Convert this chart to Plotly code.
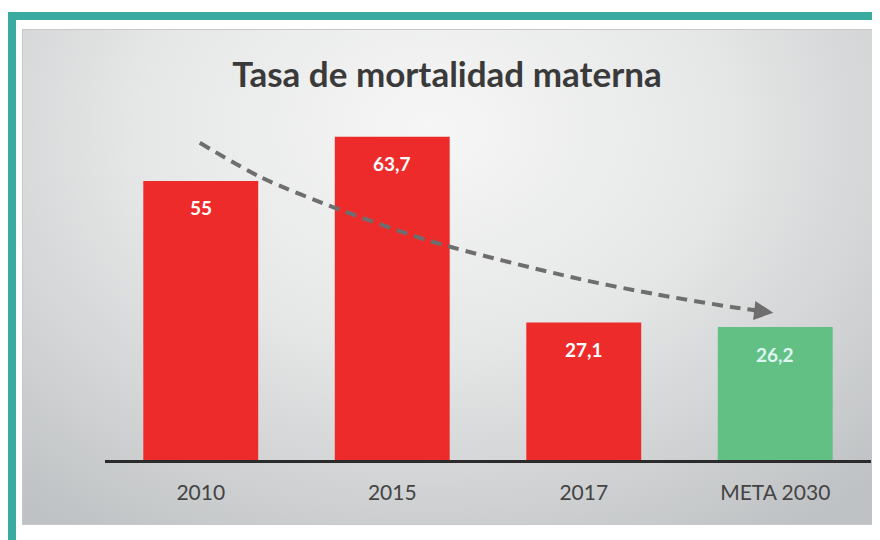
import base64

import plotly.graph_objects as go

# data
categories = ["2010", "2015", "2017", "META 2030"]
values = [55, 63.7, 27.1, 26.2]
labels = ["55", "63,7", "27,1", "26,2"]
bar_colors = ["#EE2B2B", "#EE2B2B", "#EE2B2B", "#63C084"]
label_colors = ["#FFFFFF", "#FFFFFF", "#FFFFFF", "#DDF6F2"]

# dashed trend arrow (category index, value units)
trend_x = [-0.005, 0.32, 0.715, 1.21, 1.95, 2.37, 2.78, 2.92]
trend_y = [62.5, 55.6, 49.5, 43.0, 35.9, 32.7, 30.1, 29.4]
arrow_tip = (2.99, 29.0)

TEAL = "#3AAC9F"
FONT = "Lato, Carlito, sans-serif"

# the page body adds an 8px margin, so work in screen px and shift
OFF = 8
W, H = 880 - OFF, 540 - OFF
# plot area on screen: x 105..871, y 54..460
L, R, T, B = 105 - OFF, 880 - 871, 54 - OFF, 540 - 460
pw, ph = W - L - R, H - T - B


def px_x(v):
    return (v - OFF - L) / pw


def px_y(v):
    return (H - B - (v - OFF)) / ph


svg = """<svg xmlns='http://www.w3.org/2000/svg' width='851' height='496' viewBox='0 0 851 496' preserveAspectRatio='none'>
<defs><radialGradient id='g' cx='0.48' cy='0.2' r='0.75' gradientTransform='translate(0.48 0.2) scale(1 1.3) translate(-0.48 -0.2)'>
<stop offset='0' stop-color='#f6f6f6'/><stop offset='0.45' stop-color='#e6e7e7'/>
<stop offset='1' stop-color='#bfc2c4'/></radialGradient></defs>
<rect x='0' y='0' width='851' height='496' fill='url(#g)' stroke='#c8c8c8' stroke-width='2'/></svg>"""
bg_src = "data:image/svg+xml;base64," + base64.b64encode(svg.encode()).decode()

fig = go.Figure()
fig.add_trace(
    go.Bar(
        x=categories,
        y=values,
        marker_color=bar_colors,
        marker_line_width=0,
        width=0.6,
        hoverinfo="skip",
    )
)
fig.add_trace(
    go.Scatter(
        x=trend_x,
        y=trend_y,
        mode="lines",
        line=dict(color="#6E6E6E", width=4, dash="11px,7px", shape="spline", smoothing=0.8),
        hoverinfo="skip",
        xaxis="x2",
    )
)

# arrow head
fig.add_annotation(
    x=arrow_tip[0], y=arrow_tip[1], ax=trend_x[-1] - 0.05, ay=trend_y[-1] + 0.15,
    xref="x2", yref="y", axref="x2", ayref="y",
    text="", showarrow=True, arrowhead=2, arrowsize=1.1, arrowwidth=3.5,
    arrowcolor="#6E6E6E",
)

# value labels near the top of each bar
for i, (v, lab, col) in enumerate(zip(values, labels, label_colors)):
    fig.add_annotation(
        x=i, y=v, text="<b>" + lab + "</b>", showarrow=False,
        yanchor="middle", yshift=-27,
        font=dict(family=FONT, size=19, color=col),
    )

fig.add_layout_image(
    source=bg_src, xref="paper", yref="paper",
    x=px_x(22), y=px_y(29), sizex=(873 - 22) / pw, sizey=(525 - 29) / ph,
    xanchor="left", yanchor="top", sizing="stretch", layer="below",
)

# teal frame
fig.add_shape(type="rect", xref="paper", yref="paper",
              x0=px_x(8), x1=px_x(880), y0=px_y(20), y1=px_y(12),
              fillcolor=TEAL, line_width=0, layer="below")
fig.add_shape(type="rect", xref="paper", yref="paper",
              x0=px_x(8), x1=px_x(16), y0=px_y(540), y1=px_y(12),
              fillcolor=TEAL, line_width=0, layer="below")

fig.update_layout(
    width=W, height=H,
    margin=dict(l=L, r=R, t=T, b=B),
    paper_bgcolor="white",
    plot_bgcolor="rgba(0,0,0,0)",
    showlegend=False,
    title=dict(
        text="<b>Tasa de mortalidad materna</b>",
        x=(447 - OFF) / W, xanchor="center", y=1 - (75 - OFF) / H, yanchor="middle",
        font=dict(family=FONT, size=35, color="#3A3A3A"),
    ),
    xaxis=dict(
        type="category",
        showline=True, linecolor="#2B2B2B", linewidth=2.5,
        showgrid=False, ticks="", ticklabelstandoff=12,
        tickfont=dict(family=FONT, size=21, color="#444444"),
        range=[-0.5, 3.5],
    ),
    xaxis2=dict(overlaying="x", range=[-0.5, 3.5], visible=False),
    yaxis=dict(range=[0, 80], visible=False, showgrid=False, zeroline=False),
)

fig.write_html("out.html")
